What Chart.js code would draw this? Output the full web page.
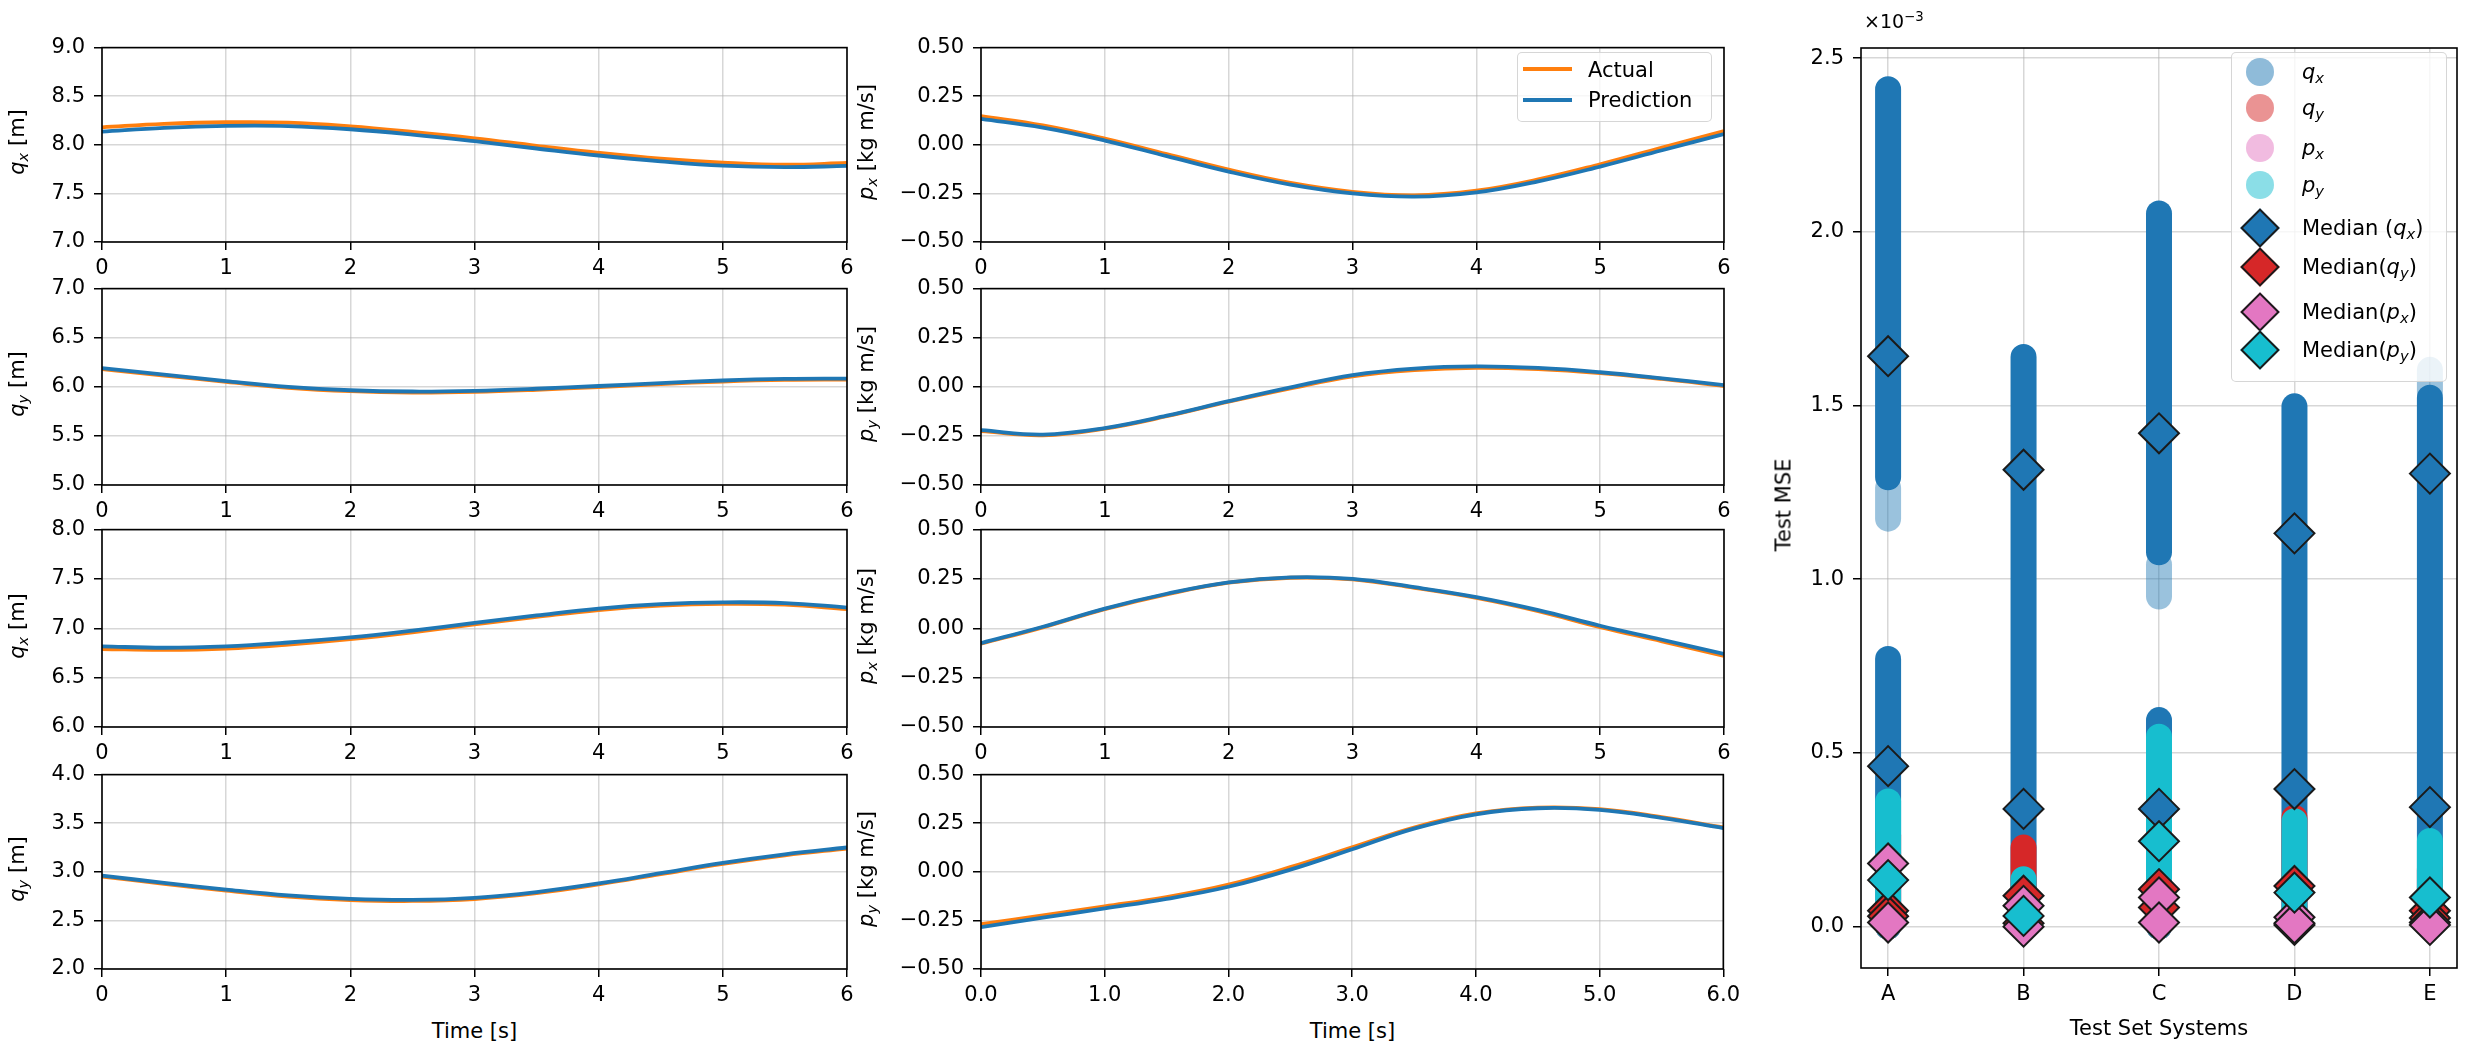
<!DOCTYPE html>
<html>
<head>
<meta charset="utf-8">
<script src="https://cdn.jsdelivr.net/npm/chart.js@4.4.0/dist/chart.umd.min.js"></script>
<style>
  body { margin: 0; width: 2480px; height: 1050px; background: #fff; position: relative; overflow: hidden;
         font-family: "DejaVu Sans", sans-serif; color: #000; }
  canvas { position: absolute; }
  .lbl { position: absolute; font-size: 21px; line-height: 1; white-space: nowrap; }
  .rot { transform: translate(-50%, -50%) rotate(-90deg); }
  .ctr { transform: translate(-50%, -50%); }
  .mid { transform: translateY(-50%); }
  sub { font-size: 0.7em; vertical-align: -0.28em; line-height: 0; font-style: italic; }
  sup { font-size: 0.7em; vertical-align: 0.55em; line-height: 0; }
  .box { position: absolute; background: rgba(255,255,255,0.8); border: 1.5px solid rgba(204,204,204,0.8);
         border-radius: 5px; box-sizing: border-box; }
  .hline { position: absolute; height: 4px; }
  .dot { position: absolute; width: 28px; height: 28px; border-radius: 50%; transform: translate(-50%, -50%); }
  .dia { position: absolute; width: 28px; height: 28px; box-sizing: border-box; border: 2px solid #1a1a1a;
         transform: translate(-50%, -50%) rotate(45deg); }
</style>
</head>
<body>
<script>
const timeS = [0, 0.5, 1, 1.5, 2, 2.5, 3, 3.5, 4, 4.5, 5, 5.5, 6];
const timeTicks = [0, 1, 2, 3, 4, 5, 6];

// system 1
const s1QxActual = [8.180, 8.215, 8.232, 8.228, 8.190, 8.133, 8.067, 7.990, 7.917, 7.857, 7.817, 7.795, 7.813];
const s1QxPred   = [8.135, 8.175, 8.195, 8.193, 8.160, 8.105, 8.037, 7.962, 7.890, 7.830, 7.785, 7.770, 7.783];
const s1QyActual = [6.180, 6.115, 6.050, 5.990, 5.955, 5.942, 5.949, 5.970, 5.998, 6.028, 6.054, 6.070, 6.074];
const s1QyPred   = [6.190, 6.124, 6.058, 6.000, 5.965, 5.952, 5.959, 5.980, 6.008, 6.038, 6.064, 6.080, 6.084];
const s1PxActual = [0.148, 0.100, 0.032, -0.048, -0.128, -0.196, -0.242, -0.260, -0.236, -0.178, -0.100, -0.014, 0.070];
const s1PxPred   = [0.133, 0.088, 0.022, -0.058, -0.138, -0.205, -0.250, -0.267, -0.245, -0.188, -0.112, -0.028, 0.055];
const s1PyActual = [-0.226, -0.247, -0.213, -0.150, -0.076, -0.008, 0.053, 0.085, 0.097, 0.090, 0.070, 0.040, 0.004];
const s1PyPred   = [-0.221, -0.243, -0.210, -0.147, -0.073, -0.003, 0.060, 0.093, 0.104, 0.096, 0.074, 0.043, 0.008];

// system 2
const s2QxActual = [6.790, 6.782, 6.795, 6.835, 6.890, 6.960, 7.040, 7.115, 7.185, 7.230, 7.248, 7.240, 7.195];
const s2QxPred   = [6.817, 6.803, 6.817, 6.856, 6.908, 6.977, 7.054, 7.130, 7.200, 7.245, 7.263, 7.256, 7.210];
const s2QyActual = [2.950, 2.877, 2.807, 2.745, 2.710, 2.700, 2.720, 2.780, 2.870, 2.976, 3.082, 3.170, 3.240];
const s2QyPred   = [2.960, 2.887, 2.817, 2.757, 2.722, 2.711, 2.732, 2.792, 2.880, 2.986, 3.092, 3.180, 3.250];
const s2PxActual = [-0.078, 0.005, 0.097, 0.172, 0.231, 0.256, 0.248, 0.205, 0.154, 0.087, 0.006, -0.066, -0.140];
const s2PxPred   = [-0.075, 0.008, 0.100, 0.175, 0.233, 0.258, 0.250, 0.208, 0.158, 0.092, 0.013, -0.058, -0.130];
const s2PyActual = [-0.270, -0.224, -0.178, -0.130, -0.066, 0.024, 0.126, 0.228, 0.300, 0.330, 0.322, 0.281, 0.228];
const s2PyPred   = [-0.285, -0.236, -0.188, -0.139, -0.077, 0.011, 0.116, 0.222, 0.296, 0.327, 0.319, 0.278, 0.225];

const qxTicks1 = [7.0, 7.5, 8.0, 8.5, 9.0];
const qyTicks1 = [5.0, 5.5, 6.0, 6.5, 7.0];
const qxTicks2 = [6.0, 6.5, 7.0, 7.5, 8.0];
const qyTicks2 = [2.0, 2.5, 3.0, 3.5, 4.0];
const pTicks = [-0.5, -0.25, 0, 0.25, 0.5];

// ---- test MSE (x 10^-3) per test system ----
const systems = ['A', 'B', 'C', 'D', 'E'];
const mseTicks = [0, 0.5, 1.0, 1.5, 2.0, 2.5];
// extent of each dense column of scatter points [low, high]
const qxColumns = [[[-0.037, 0.808], [1.256, 2.448]], [[-0.037, 1.677]], [[-0.037, 0.632], [1.040, 2.090]], [[-0.037, 1.535]], [[-0.037, 1.560]]];
const qxSparse  = [[[1.137, 1.300]], [], [[0.913, 1.080]], [], [[1.500, 1.640]]];
const qyColumns = [[[-0.037, 0.300]], [[-0.037, 0.265]], [[-0.037, 0.400]], [[-0.037, 0.351]], [[-0.037, 0.200]]];
const pxColumns = [[[-0.037, 0.250]], [[-0.037, 0.120]], [[-0.037, 0.200]], [[-0.037, 0.120]], [[-0.037, 0.100]]];
const pyColumns = [[[-0.037, 0.398]], [[-0.037, 0.174]], [[-0.037, 0.584]], [[-0.037, 0.341]], [[-0.037, 0.284]]];
const medianQx = [[1.642, 0.462], [1.315, 0.339], [1.420, 0.339], [1.132, 0.396], [1.304, 0.344]];
const medianQy = [[0.046, 0.030], [0.089, 0.010], [0.108, 0.055], [0.117, 0.005], [0.046, 0.025]];
const medianPx = [[0.182, 0.012], [0.060, 0.000], [0.084, 0.012], [0.027, 0.010], [0.012, 0.005]];
const medianPy = [[0.134], [0.031], [0.246], [0.098], [0.084]];

// ---- styling ----
const C = { orange: '#ff7f0e', blue: '#1f77b4', red: '#d62728', pink: '#e377c2', cyan: '#17becf' };
const FONT = { family: 'DejaVu Sans', size: 21 };
const GRID = 'rgba(176,176,176,0.5)';
const PAD_L = 100, PAD_T = 16, PAD_R = 22, PAD_B = 48;

Chart.defaults.font.family = 'DejaVu Sans';
Chart.defaults.color = '#000';

const framePlugin = {
  id: 'frame',
  afterDraw(chart) {
    const a = chart.chartArea, ctx = chart.ctx;
    ctx.save();
    ctx.strokeStyle = '#000';
    ctx.lineWidth = 1.6;
    ctx.strokeRect(a.left, a.top, a.right - a.left, a.bottom - a.top);
    ctx.restore();
  }
};

function makeCanvas(box) {
  const c = document.createElement('canvas');
  c.width = box.w + PAD_L + PAD_R;
  c.height = box.h + PAD_T + PAD_B;
  c.style.left = (box.x - PAD_L) + 'px';
  c.style.top = (box.y - PAD_T) + 'px';
  c.style.width = c.width + 'px';
  c.style.height = c.height + 'px';
  document.body.appendChild(c);
  return c;
}

function axis(min, max, tickList, fmt, isX) {
  return {
    type: 'linear', min, max, offset: false,
    afterFit: s => { if (isX) s.height = PAD_B; else s.width = PAD_L; },
    afterBuildTicks: s => { s.ticks = tickList.map(v => ({ value: v })); },
    grid: { color: GRID, lineWidth: 1.5, tickColor: '#000', tickWidth: 1.5, tickLength: 8, offset: false },
    border: { display: false },
    ticks: { font: FONT, color: '#000', padding: isX ? 6 : 9, maxRotation: 0, autoSkip: false, callback: fmt }
  };
}

const fmtInt = v => String(v);
const fmt1 = v => v.toFixed(1);
const fmt2 = v => v.toFixed(2).replace('-', '\u2212');

function baseOptions(scales) {
  return {
    responsive: false, devicePixelRatio: 1, animation: false, events: [],
    layout: { padding: { top: PAD_T, right: PAD_R, left: 0, bottom: 0 } },
    plugins: { legend: { display: false }, tooltip: { enabled: false } },
    scales
  };
}

function lineChart(box, actual, pred, yTicks, yFmt, xFmt) {
  const toPts = arr => timeS.map((t, i) => ({ x: t, y: arr[i] }));
  const ds = (label, arr, color, order) => ({
    label, data: toPts(arr), borderColor: color, borderWidth: 3.8, pointRadius: 0,
    tension: 0.4, order
  });
  new Chart(makeCanvas(box), {
    type: 'line',
    data: { datasets: [ds('Actual', actual, C.orange, 2), ds('Prediction', pred, C.blue, 1)] },
    options: baseOptions({
      x: axis(0, 6, timeTicks, xFmt, true),
      y: axis(yTicks[0], yTicks[yTicks.length - 1], yTicks, yFmt, false)
    }),
    plugins: [framePlugin]
  });
}

const colL = { x: 102, w: 745 }, colM = { x: 981, w: 743 };
const rows = [{ y: 42, h: 200 }, { y: 283, h: 202 }, { y: 524, h: 203 }, { y: 769, h: 200 }];
const at = (col, row) => ({ x: col.x, w: col.w, y: rows[row].y, h: rows[row].h });

lineChart(at(colL, 0), s1QxActual, s1QxPred, qxTicks1, fmt1, fmtInt);
lineChart(at(colL, 1), s1QyActual, s1QyPred, qyTicks1, fmt1, fmtInt);
lineChart(at(colL, 2), s2QxActual, s2QxPred, qxTicks2, fmt1, fmtInt);
lineChart(at(colL, 3), s2QyActual, s2QyPred, qyTicks2, fmt1, fmtInt);
lineChart(at(colM, 0), s1PxActual, s1PxPred, pTicks, fmt2, fmtInt);
lineChart(at(colM, 1), s1PyActual, s1PyPred, pTicks, fmt2, fmtInt);
lineChart(at(colM, 2), s2PxActual, s2PxPred, pTicks, fmt2, fmtInt);
lineChart(at(colM, 3), s2PyActual, s2PyPred, pTicks, fmt2, fmt1);

// ---- MSE scatter ----
const mseDatasets = [];
function addColumns(cols, color) {
  const data = [];
  cols.forEach((list, i) => list.forEach(r => data.push({ x: i, y: r })));
  mseDatasets.push({
    type: 'bar', data, backgroundColor: color, barThickness: 26, borderRadius: 13,
    borderSkipped: false, grouped: false, inflateAmount: 0
  });
}
function addMedians(meds, color) {
  const data = [];
  meds.forEach((list, i) => list.forEach(v => data.push({ x: i, y: v })));
  mseDatasets.push({
    type: 'scatter', data, pointStyle: 'rectRot', pointRadius: 20, backgroundColor: color,
    borderColor: '#1a1a1a', borderWidth: 2, showLine: false
  });
}
addColumns(qxSparse, 'rgba(31,119,180,0.45)');
addColumns(qxColumns, C.blue);
addColumns(qyColumns, C.red);
addColumns(pxColumns, C.pink);
addColumns(pyColumns, C.cyan);
addMedians(medianQx, C.blue);
addMedians(medianQy, C.red);
addMedians(medianPx, C.pink);
addMedians(medianPy, C.cyan);
// later datasets on top
mseDatasets.forEach((d, i) => { d.order = mseDatasets.length - i; });

new Chart(makeCanvas({ x: 1861, y: 42, w: 596, h: 926 }), {
  type: 'bar',
  data: { datasets: mseDatasets },
  options: baseOptions({
    x: axis(-0.2, 4.2, [0, 1, 2, 3, 4], v => systems[v], true),
    y: axis(-0.119, 2.529, mseTicks, fmt1, false)
  }),
  plugins: [framePlugin]
});

// ---- text labels and legends ----
function label(html, x, y, cls) {
  const d = document.createElement('div');
  d.className = 'lbl ' + cls;
  d.style.left = x + 'px';
  d.style.top = y + 'px';
  d.innerHTML = html;
  document.body.appendChild(d);
  return d;
}
const leftTitles = ['<i>q</i><sub>x</sub> [m]', '<i>q</i><sub>y</sub> [m]', '<i>q</i><sub>x</sub> [m]', '<i>q</i><sub>y</sub> [m]'];
const midTitles = ['<i>p</i><sub>x</sub> [kg m/s]', '<i>p</i><sub>y</sub> [kg m/s]', '<i>p</i><sub>x</sub> [kg m/s]', '<i>p</i><sub>y</sub> [kg m/s]'];
rows.forEach((r, i) => {
  label(leftTitles[i], 17, r.y + r.h / 2, 'rot');
  label(midTitles[i], 866, r.y + r.h / 2, 'rot');
});
label('Time [s]', colL.x + colL.w / 2, 1031, 'ctr');
label('Time [s]', colM.x + colM.w / 2, 1031, 'ctr');
label('Test MSE', 1784, 505, 'rot');
label('Test Set Systems', 2159, 1028, 'ctr');
label('\u00d710<sup>\u22123</sup>', 1864, 12, '').style.fontSize = '19px';

// line legend
function el(cls, style) {
  const d = document.createElement('div');
  d.className = cls;
  Object.assign(d.style, style);
  document.body.appendChild(d);
  return d;
}
el('box', { left: '1517px', top: '52px', width: '195px', height: '70px' });
el('hline', { left: '1523px', top: '67px', width: '49px', background: C.orange });
el('hline', { left: '1523px', top: '98px', width: '49px', background: C.blue });
label('Actual', 1588, 70, 'mid');
label('Prediction', 1588, 100, 'mid');

// MSE legend
el('box', { left: '2231px', top: '52px', width: '216px', height: '330px' });
const mseLegend = [
  ['dot', 'rgba(31,119,180,0.5)', '<i>q</i><sub>x</sub>', 72],
  ['dot', 'rgba(214,39,40,0.5)', '<i>q</i><sub>y</sub>', 108],
  ['dot', 'rgba(227,119,194,0.5)', '<i>p</i><sub>x</sub>', 148],
  ['dot', 'rgba(23,190,207,0.5)', '<i>p</i><sub>y</sub>', 185],
  ['dia', C.blue, 'Median (<i>q</i><sub>x</sub>)', 228],
  ['dia', C.red, 'Median(<i>q</i><sub>y</sub>)', 267],
  ['dia', C.pink, 'Median(<i>p</i><sub>x</sub>)', 312],
  ['dia', C.cyan, 'Median(<i>p</i><sub>y</sub>)', 350]
];
mseLegend.forEach(([kind, color, html, y]) => {
  el(kind, { left: '2260px', top: y + 'px', background: color });
  label(html, 2302, y, 'mid');
});
</script>
</body>
</html>
